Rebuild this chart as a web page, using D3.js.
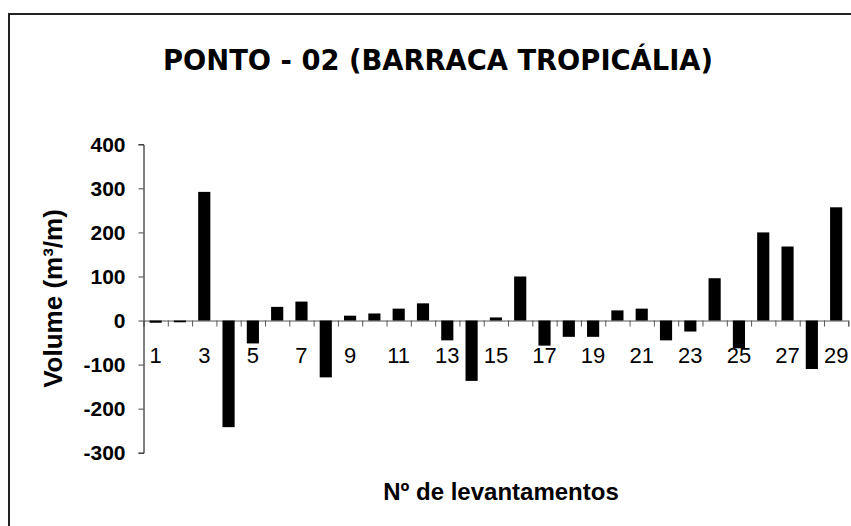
<!DOCTYPE html>
<html>
<head>
<meta charset="utf-8">
<script src="https://cdn.jsdelivr.net/npm/d3@7"></script>
<style>
body { margin: 0; background: #fff; }
</style>
</head>
<body>
<div id="chart"></div>
<script>
// data
var levantamentos = [1,2,3,4,5,6,7,8,9,10,11,12,13,14,15,16,17,18,19,20,21,22,23,24,25,26,27,28,29];
var volumes = [-5,-4,292,-242,-52,31,43,-129,11,16,27,39,-45,-137,7,100,-57,-37,-37,23,27,-45,-25,96,-63,200,168,-110,257];
var xLabels = [1,3,5,7,9,11,13,15,17,19,21,23,25,27,29];
var yTicks = [-300,-200,-100,0,100,200,300,400];

var W = 851, H = 526;
var plotLeft = 143.5, plotRight = 848.3, plotTop = 144.3, plotBottom = 452.7;

var svg = d3.select("#chart")
.append("svg")
.attr("width", W)
.attr("height", H);

// outer frame (runs off the right / bottom edge)
svg.append("rect")
.attr("x", 9).attr("y", 14)
.attr("width", 900).attr("height", 600)
.attr("fill", "#fff")
.attr("stroke", "#222")
.attr("stroke-width", 2);

var y = d3.scaleLinear()
.domain([-300, 400])
.range([plotBottom, plotTop]);

// band scale for the bars
var x = d3.scaleBand()
.domain(levantamentos)
.range([plotLeft, plotRight])
.paddingInner(0.5)
.paddingOuter(0.25);

// linear scale for the tick marks at band edges
var xb = d3.scaleLinear()
.domain([0, levantamentos.length])
.range([plotLeft, plotRight]);

//add y (plain hyphen for negatives, like the original)
var yAxis = svg.append("g")
.attr("transform", "translate(" + plotLeft + ",0)")
.call(d3.axisLeft(y).tickValues(yTicks).tickSize(5).tickPadding(13)
  .tickFormat(function(d){ return String(d); }));
yAxis.select(".domain").attr("stroke", "#000");
yAxis.selectAll(".tick line").attr("stroke", "#444");
yAxis.selectAll("text")
.attr("font-family", "Arial, 'Liberation Sans', sans-serif")
.attr("font-weight", "bold")
.attr("font-size", 21)
.attr("fill", "#000");

//add x (zero line with ticks pointing down)
var xAxis = svg.append("g")
.attr("transform", "translate(0," + y(0) + ")")
.call(d3.axisBottom(xb).tickValues(d3.range(0, levantamentos.length + 1)).tickSize(6).tickFormat(""));
xAxis.select(".domain").attr("stroke", "#555");
xAxis.selectAll(".tick line").attr("stroke", "#555");

//show the bars
svg.append("g")
.selectAll("rect")
.data(volumes)
.enter()
.append("rect")
.attr("x", function(d, i){ return x(levantamentos[i]); })
.attr("width", x.bandwidth())
.attr("y", function(d){ return y(Math.max(0, d)); })
.attr("height", function(d){ return Math.abs(y(d) - y(0)); })
.attr("fill", "#000");

// category labels (odd numbers only)
svg.append("g")
.selectAll("text")
.data(xLabels)
.enter()
.append("text")
.attr("x", function(d){ return x(d) + x.bandwidth() / 2; })
.attr("y", 363)
.attr("text-anchor", "middle")
.attr("font-family", "Arial, 'Liberation Sans', sans-serif")
.attr("font-size", 22)
.text(function(d){ return d; });

// title
svg.append("text")
.attr("x", 438)
.attr("y", 70)
.attr("text-anchor", "middle")
.attr("font-family", "'Comic Sans MS', 'DejaVu Sans', sans-serif")
.attr("font-weight", "bold")
.attr("font-size", 28)
.attr("textLength", 550)
.attr("lengthAdjust", "spacingAndGlyphs")
.text("PONTO - 02 (BARRACA TROPICÁLIA)");

// axis titles
svg.append("text")
.attr("transform", "translate(62," + ((plotTop + plotBottom) / 2) + ") rotate(-90)")
.attr("text-anchor", "middle")
.attr("font-family", "Arial, 'Liberation Sans', sans-serif")
.attr("font-weight", "bold")
.attr("font-size", 26)
.text("Volume (m³/m)");

svg.append("text")
.attr("x", 501)
.attr("y", 500)
.attr("text-anchor", "middle")
.attr("font-family", "Arial, 'Liberation Sans', sans-serif")
.attr("font-weight", "bold")
.attr("font-size", 24)
.text("Nº de levantamentos");
</script>
</body>
</html>
